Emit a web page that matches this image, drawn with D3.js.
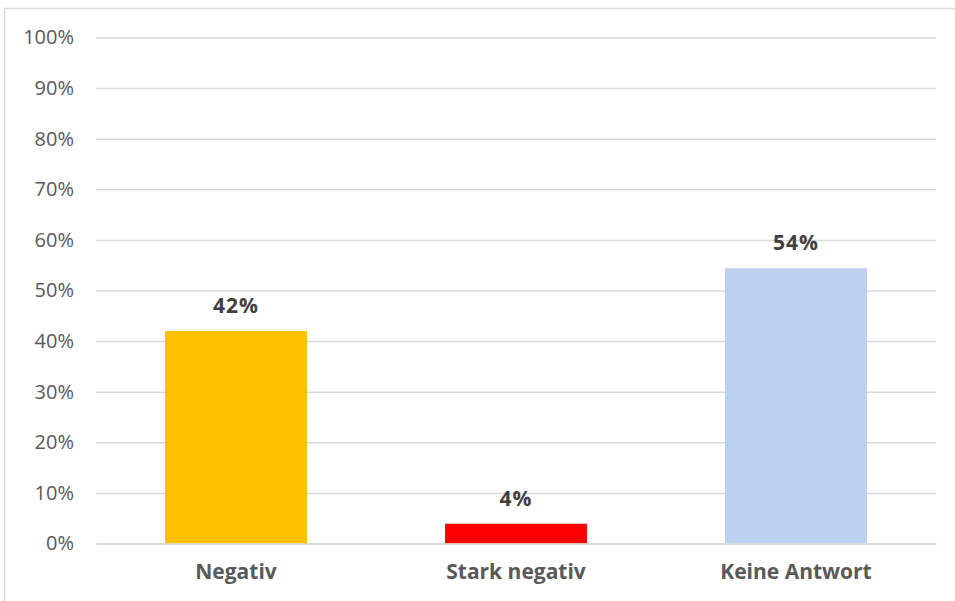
<!DOCTYPE html>
<html><head><meta charset="utf-8">
<script src="https://cdn.jsdelivr.net/npm/d3@7"></script>
<style>body{margin:0;background:#fff}svg{display:block}</style>
</head><body>
<svg id="c" width="955" height="601"></svg>
<script>
const categories = ["Negativ", "Stark negativ", "Keine Antwort"];
const values = [0.42, 0.039, 0.544];
const valueLabels = ["42%", "4%", "54%"];
const colors = ["#FFC000", "#FF0000", "#BCD0EF"];
const yTicks = [0,0.1,0.2,0.3,0.4,0.5,0.6,0.7,0.8,0.9,1.0];

const svg = d3.select("#c");
const font = "'Open Sans', sans-serif";
svg.append("rect").attr("x",4.5).attr("y",8.5).attr("width",960).attr("height",600)
  .attr("fill","#fff").attr("stroke","#d9d9d9").attr("stroke-width",1.5);

const x = d3.scaleBand().domain(categories).range([96,936]).paddingInner(0.493).paddingOuter(0.2465);
const y = d3.scaleLinear().domain([0,1]).range([543.5,37.5]);

const yAxis = svg.append("g").attr("transform","translate(96,0)")
  .call(d3.axisLeft(y).tickValues(yTicks).tickFormat(d3.format(".0%")).tickSize(-840).tickPadding(22));
yAxis.select(".domain").remove();
yAxis.selectAll("line").attr("stroke","#d9d9d9").attr("stroke-width",1.5);
yAxis.selectAll("text").attr("fill","#595959").style("font-family",font).style("font-size","20px");

svg.selectAll("rect.bar").data(values).join("rect").attr("class","bar")
  .attr("x",(d,i)=>x(categories[i])).attr("width",x.bandwidth())
  .attr("y",d=>y(d)).attr("height",d=>y(0)-y(d)).attr("fill",(d,i)=>colors[i]);

svg.selectAll("text.val").data(values).join("text").attr("class","val")
  .attr("x",(d,i)=>x(categories[i])+x.bandwidth()/2).attr("y",d=>y(d)-18)
  .attr("text-anchor","middle").attr("fill","#404040")
  .style("font-family",font).style("font-size","21px").style("font-weight","bold")
  .style("letter-spacing","1px")
  .text((d,i)=>valueLabels[i]);

const xAxis = svg.append("g").attr("transform","translate(0,543.5)")
  .call(d3.axisBottom(x).tickSize(0).tickPadding(21));
xAxis.select(".domain").attr("stroke","#d9d9d9").attr("stroke-width",1.5);
xAxis.selectAll("text").attr("fill","#595959").style("font-family",font).style("font-size","21px").style("font-weight","bold");
</script>
</body></html>
